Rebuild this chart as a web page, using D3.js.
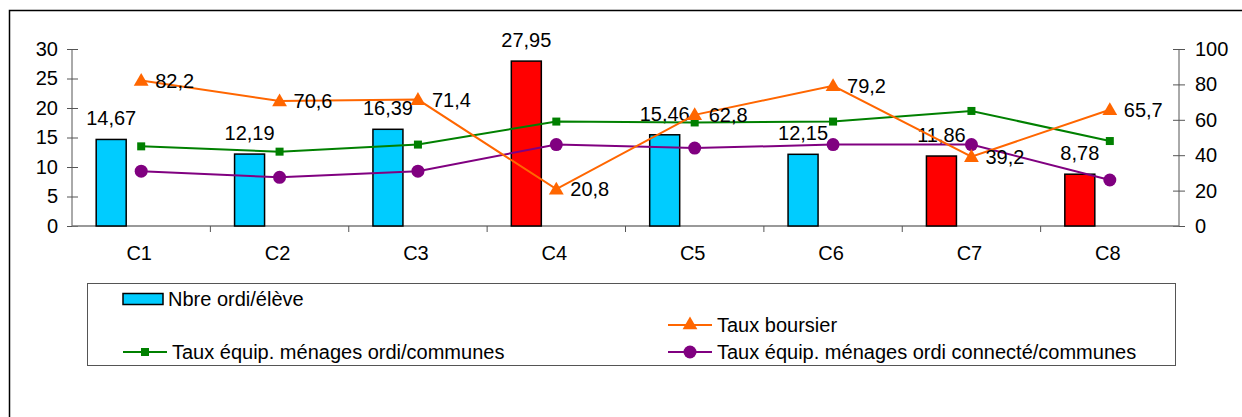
<!DOCTYPE html>
<html lang="fr">
<head>
<meta charset="utf-8">
<title>Nbre ordi/élève et taux</title>
<script src="https://cdnjs.cloudflare.com/ajax/libs/d3/7.8.5/d3.min.js"></script>
<style>
body { margin: 0; background: #fff; }
svg { display: block; font-family: "Liberation Sans", Arial, sans-serif; }
.axis path, .axis line { stroke: #555; }
.axis text { font-size: 20px; fill: #000; font-family: "Liberation Sans", Arial, sans-serif; }
.lbl { font-size: 20px; fill: #000; }
</style>
</head>
<body>
<div id="chart"></div>
<script>

var categories = ["C1", "C2", "C3", "C4", "C5", "C6", "C7", "C8"];
var ordiEleve = [14.67, 12.19, 16.39, 27.95, 15.46, 12.15, 11.86, 8.78];
var barIsRed = [false, false, false, true, false, false, true, true];
var tauxBoursier = [82.2, 70.6, 71.4, 20.8, 62.8, 79.2, 39.2, 65.7];
var tauxOrdi = [45, 42, 46, 59, 58.5, 59, 65, 48];
var tauxConnecte = [31, 27.5, 31, 46, 44, 46, 46, 26];
var leftTicks = [0, 5, 10, 15, 20, 25, 30];
var rightTicks = [0, 20, 40, 60, 80, 100];

var width = 1242, height = 417;

var svg = d3.select("#chart").append("svg")
    .attr("width", width)
    .attr("height", height);

var fr = d3.formatLocale({decimal: ",", thousands: " ", grouping: [3], currency: ["", " €"]});
var fmt2 = fr.format(".2f"),
    fmt1 = fr.format(".1f");

// outer frame
svg.append("rect")
    .attr("x", 9.5).attr("y", 10.5)
    .attr("width", 1240).attr("height", 420)
    .attr("fill", "none")
    .attr("stroke", "#000")
    .attr("stroke-width", 1.5);

var x = d3.scaleBand().domain(categories).range([72, 1179]).padding(0);
var yL = d3.scaleLinear().domain([0, 30]).range([226, 49]);
var yR = d3.scaleLinear().domain([0, 100]).range([226, 49]);
var cx = function(c) { return x(c) + x.bandwidth() / 2; };

// y axes with cross ticks
var axL = svg.append("g").attr("class", "axis")
    .attr("transform", "translate(72,0)")
    .call(d3.axisLeft(yL).tickValues(leftTicks).tickSize(5).tickPadding(9));
axL.select(".domain").attr("d", "M0," + yL(30) + "V" + yL(0));
axL.selectAll(".tick line").attr("x1", 6);

var axR = svg.append("g").attr("class", "axis")
    .attr("transform", "translate(1179,0)")
    .call(d3.axisRight(yR).tickValues(rightTicks).tickSize(6).tickPadding(10));
axR.select(".domain").attr("d", "M0," + yR(100) + "V" + yR(0));
axR.selectAll(".tick line").attr("x1", -6);

// x axis
svg.append("line")
    .attr("x1", 72).attr("x2", 1179)
    .attr("y1", 226).attr("y2", 226)
    .attr("stroke", "#777").attr("stroke-width", 1.5);
svg.append("g").selectAll("line")
    .data(categories.slice(1))
    .join("line")
    .attr("x1", function(d) { return x(d); })
    .attr("x2", function(d) { return x(d); })
    .attr("y1", 226).attr("y2", 232)
    .attr("stroke", "#555");
svg.append("g").selectAll("text")
    .data(categories)
    .join("text")
    .attr("class", "lbl")
    .attr("x", function(d) { return cx(d) - 2; })
    .attr("y", 260)
    .attr("text-anchor", "middle")
    .text(function(d) { return d; });

// bars
var barW = 30;
svg.append("g").selectAll("rect")
    .data(categories)
    .join("rect")
    .attr("x", function(d) { return cx(d) - 45; })
    .attr("y", function(d, i) { return yL(ordiEleve[i]); })
    .attr("width", barW)
    .attr("height", function(d, i) { return yL(0) - yL(ordiEleve[i]); })
    .attr("fill", function(d, i) { return barIsRed[i] ? "#ff0000" : "#00ccff"; })
    .attr("stroke", "#000")
    .attr("stroke-width", 1.5);

svg.append("g").selectAll("text")
    .data(categories)
    .join("text")
    .attr("class", "lbl")
    .attr("x", function(d) { return cx(d) - 30; })
    .attr("y", function(d, i) { return yL(ordiEleve[i]) - 14; })
    .attr("text-anchor", "middle")
    .text(function(d, i) { return fmt2(ordiEleve[i]); });

// line series
var line = d3.line()
    .x(function(d) { return cx(d.c); })
    .y(function(d) { return yR(d.v); });

function series(values, color) {
    var pts = categories.map(function(c, i) { return {c: c, v: values[i]}; });
    svg.append("path")
        .datum(pts)
        .attr("d", line)
        .attr("fill", "none")
        .attr("stroke", color)
        .attr("stroke-width", 2);
    return pts;
}

var ptsOrdi = series(tauxOrdi, "#008000");
svg.append("g").selectAll("rect")
    .data(ptsOrdi)
    .join("rect")
    .attr("x", function(d) { return cx(d.c) - 4; })
    .attr("y", function(d) { return yR(d.v) - 4; })
    .attr("width", 8).attr("height", 8)
    .attr("fill", "#008000");

var ptsConn = series(tauxConnecte, "#800080");
svg.append("g").selectAll("circle")
    .data(ptsConn)
    .join("circle")
    .attr("cx", function(d) { return cx(d.c); })
    .attr("cy", function(d) { return yR(d.v); })
    .attr("r", 6.5)
    .attr("fill", "#800080");

var tri = d3.symbol().type(d3.symbolTriangle).size(95);
var ptsBours = series(tauxBoursier, "#ff6600");
svg.append("g").selectAll("path")
    .data(ptsBours)
    .join("path")
    .attr("d", tri)
    .attr("transform", function(d) { return "translate(" + cx(d.c) + "," + (yR(d.v) + 1) + ")"; })
    .attr("fill", "#ff6600");
svg.append("g").selectAll("text")
    .data(ptsBours)
    .join("text")
    .attr("class", "lbl")
    .attr("x", function(d) { return cx(d.c) + 14; })
    .attr("y", function(d) { return yR(d.v); })
    .attr("dy", "0.35em")
    .text(function(d) { return fmt1(d.v); });

// legend
var legend = svg.append("g");
legend.append("rect")
    .attr("x", 87.5).attr("y", 283.5)
    .attr("width", 1088).attr("height", 82)
    .attr("fill", "#fff")
    .attr("stroke", "#555");

var legendItems = [
    {name: "Nbre ordi/élève", type: "bar", color: "#00ccff", x: 123, y: 299},
    {name: "Taux boursier", type: "tri", color: "#ff6600", x: 668, y: 325},
    {name: "Taux équip. ménages ordi/communes", type: "sq", color: "#008000", x: 123, y: 352},
    {name: "Taux équip. ménages ordi connecté/communes", type: "dot", color: "#800080", x: 668, y: 352}
];

legendItems.forEach(function(it) {
    var g = legend.append("g").attr("transform", "translate(" + it.x + "," + it.y + ")");
    var sw = it.type === "bar" ? 40 : 44;
    if (it.type === "bar") {
        g.append("rect").attr("x", 0).attr("y", -5.5).attr("width", 40).attr("height", 11)
            .attr("fill", it.color).attr("stroke", "#000").attr("stroke-width", 1.5);
    } else {
        g.append("line").attr("x1", 0).attr("x2", sw).attr("y1", 0).attr("y2", 0)
            .attr("stroke", it.color).attr("stroke-width", 2);
        if (it.type === "tri") {
            g.append("path").attr("d", tri).attr("transform", "translate(" + sw / 2 + ",0)").attr("fill", it.color);
        } else if (it.type === "sq") {
            g.append("rect").attr("x", sw / 2 - 4).attr("y", -4).attr("width", 8).attr("height", 8).attr("fill", it.color);
        } else {
            g.append("circle").attr("cx", sw / 2).attr("r", 6.5).attr("fill", it.color);
        }
    }
    g.append("text")
        .attr("class", "lbl")
        .attr("x", sw + 5)
        .attr("dy", "0.35em")
        .text(it.name);
});

</script>
</body>
</html>
